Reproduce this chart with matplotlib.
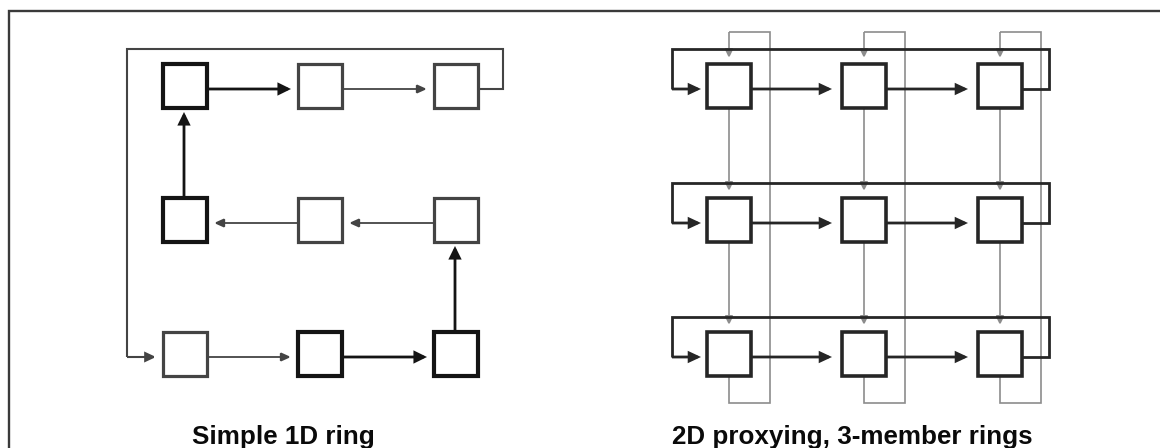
import matplotlib
matplotlib.use("Agg")
import matplotlib.pyplot as plt
from matplotlib.patches import Rectangle, FancyArrowPatch

# ---- diagram description -------------------------------------------------
TITLES = ["Simple 1D ring", "2D proxying, 3-member rings"]
TITLE_X = [283, 852]
ROWS = [86, 220, 354]            # row centres (both panels)
L_COLS = [185, 320, 456]         # left panel column centres
R_COLS = [729, 864, 1000]        # right panel column centres
# which squares of the 1D ring are drawn heavy
L_BOLD = [[1, 0, 0],
          [1, 0, 0],
          [0, 1, 1]]
# order of the 1D ring (row, col)
L_RING = [(0, 0), (0, 1), (0, 2), (2, 0), (2, 1), (2, 2),
          (1, 2), (1, 1), (1, 0), (0, 0)]

# ---- styling ---------------------------------------------------------------
W, H = 1160, 448
HALF = 22
DY = 3
GAP = 7
DARK = "#141414"
MID = "#444444"
GREY = "#8c8c8c"

fig = plt.figure(figsize=(W / 100, H / 100), dpi=100)
ax = fig.add_axes([0, 0, 1, 1])
ax.set_xlim(0, W)
ax.set_ylim(H, 0)
ax.axis("off")


def square(x, y, lw, color):
    ax.add_patch(Rectangle((x - HALF, y - HALF), 2 * HALF, 2 * HALF,
                           fc="white", ec=color, lw=lw, zorder=4,
                           joinstyle="miter"))


def arrow(p0, p1, lw, color, hl=6.0, hw=2.8, z=2):
    ax.add_patch(FancyArrowPatch(p0, p1,
                                 arrowstyle=f"-|>,head_length={hl},head_width={hw}",
                                 mutation_scale=1, lw=lw, color=color,
                                 shrinkA=0, shrinkB=0, zorder=z,
                                 joinstyle="miter", capstyle="butt"))


def path(pts, lw, color, z=2, hl=6.0, hw=2.8):
    xs = [p[0] for p in pts[:-1]]
    ys = [p[1] for p in pts[:-1]]
    ax.plot(xs, ys, color=color, lw=lw, zorder=z, solid_joinstyle="miter",
            solid_capstyle="butt")
    arrow(pts[-2], pts[-1], lw, color, hl, hw, z)


# frame (top and left edges only)
ax.plot([9, 9, W], [H, 11, 11], color="#3a3a3a", lw=1.7, zorder=1,
        solid_joinstyle="miter")

# ---- left panel: simple 1D ring -------------------------------------------
for r, row in enumerate(ROWS):
    for c, col in enumerate(L_COLS):
        if L_BOLD[r][c]:
            square(col, row, 3.0, DARK)
        else:
            square(col, row, 2.3, MID)

for (r0, c0), (r1, c1) in zip(L_RING[:-1], L_RING[1:]):
    heavy = L_BOLD[r0][c0]
    lw = 2.0 if heavy else 1.3
    col_ = DARK if heavy else MID
    hl, hw = (6.5, 3.2) if heavy else (5.8, 2.6)
    if r0 == r1:  # horizontal step
        s = 1 if c1 > c0 else -1
        y = ROWS[r0] + DY
        x0 = L_COLS[c0] + s * HALF
        x1 = L_COLS[c1] - s * (HALF + GAP)
        arrow((x0, y), (x1, y), lw, col_, hl, hw)
    elif c0 == c1:  # vertical step
        s = 1 if r1 > r0 else -1
        x = L_COLS[c0] - 1
        y0 = ROWS[r0] + s * HALF
        y1 = ROWS[r1] - s * (HALF + 4)
        arrow((x, y0), (x, y1), lw, col_, hl, hw)
    else:  # wrap-around loop
        y_out = ROWS[r0] + DY
        y_in = ROWS[r1] + DY
        xr = L_COLS[c0] + HALF + 25
        xl = L_COLS[c1] - 58
        ytop = ROWS[0] - 37
        path([(L_COLS[c0] + HALF, y_out), (xr, y_out), (xr, ytop),
              (xl, ytop), (xl, y_in), (L_COLS[c1] - HALF - GAP, y_in)],
             1.5, MID)

# ---- right panel: 2D proxying ---------------------------------------------
RDARK = "#262626"
for row in ROWS:
    for col in R_COLS:
        square(col, row, 2.6, RDARK)

# horizontal rings (dark)
for row in ROWS:
    y = row + DY
    for c in range(len(R_COLS) - 1):
        arrow((R_COLS[c] + HALF, y), (R_COLS[c + 1] - HALF - 10, y),
              2.0, RDARK, 6.2, 2.9, z=3)
    xr = R_COLS[-1] + HALF + 27
    xl = R_COLS[0] - 57
    ytop = row - 37
    path([(R_COLS[-1] + HALF, y), (xr, y), (xr, ytop), (xl, ytop),
          (xl, y), (R_COLS[0] - HALF - 6, y)], 2.0, RDARK, z=3,
         hl=6.2, hw=2.9)

# vertical rings (grey)
for col in R_COLS:
    for r in range(len(ROWS) - 1):
        arrow((col, ROWS[r] + HALF), (col, ROWS[r + 1] - HALF - 7),
              1.2, GREY, 5.2, 2.5, z=2)
    xr = col + 41
    ybot = ROWS[-1] + 49
    ytop = ROWS[0] - 54
    path([(col, ROWS[-1] + HALF), (col, ybot), (xr, ybot), (xr, ytop),
          (col, ytop), (col, ROWS[0] - HALF - 6)], 1.2, GREY, z=2,
         hl=5.2, hw=2.5)

# ---- titles ---------------------------------------------------------------
for t, x in zip(TITLES, TITLE_X):
    ax.text(x, 444, t, ha="center", va="baseline", fontsize=18.7,
            fontweight="bold", family=["Liberation Sans", "DejaVu Sans"],
            color="#0a0a0a")

fig.savefig("out.png", dpi=100, facecolor="white")
